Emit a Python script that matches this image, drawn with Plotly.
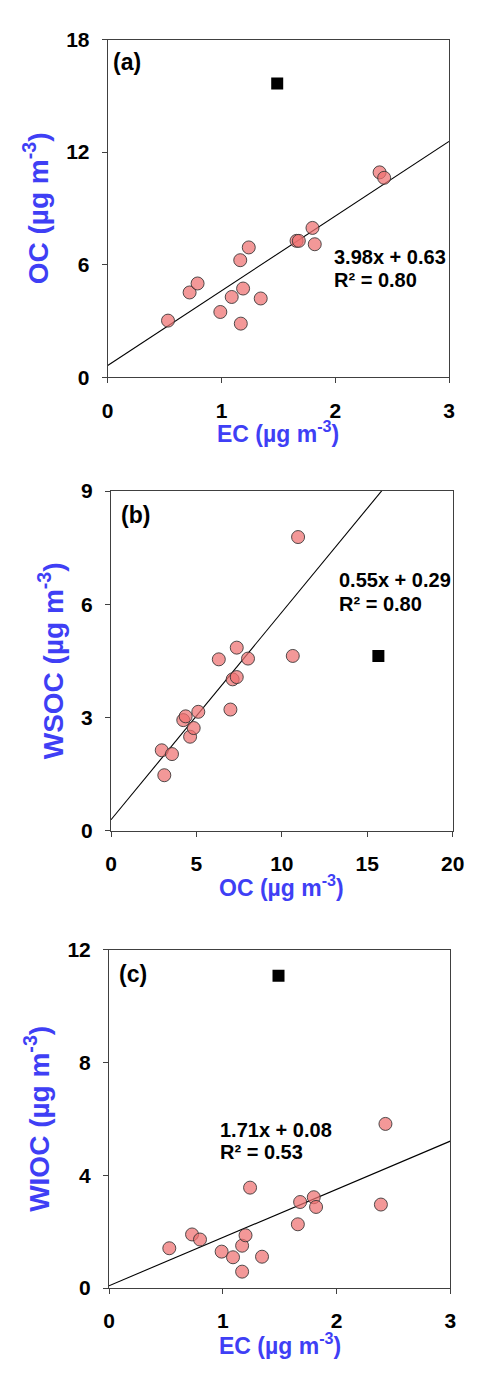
import plotly.graph_objects as go

W, H = 480, 1386

# ---- data ----
ec_a = [0.53, 0.72, 0.79, 0.99, 1.09, 1.165, 1.17, 1.19, 1.24, 1.345, 1.66, 1.68, 1.80, 1.82, 2.39, 2.43]
oc_a = [3.02, 4.52, 5.00, 3.48, 4.28, 6.24, 2.86, 4.73, 6.92, 4.20, 7.27, 7.27, 7.96, 7.09, 10.92, 10.63]
ec_a_out = [1.49]
oc_a_out = [15.66]

oc_b = [2.97, 3.12, 3.57, 4.23, 4.37, 4.63, 4.84, 5.11, 6.31, 6.99, 7.12, 7.36, 7.36, 8.02, 10.64, 10.95]
wsoc_b = [2.13, 1.47, 2.03, 2.93, 3.03, 2.49, 2.72, 3.15, 4.54, 3.21, 4.01, 4.07, 4.85, 4.56, 4.63, 7.78]
oc_b_out = [15.65]
wsoc_b_out = [4.63]

ec_c = [0.53, 0.73, 0.80, 0.99, 1.09, 1.17, 1.17, 1.20, 1.24, 1.345, 1.66, 1.68, 1.80, 1.82, 2.39, 2.43]
wioc_c = [1.41, 1.90, 1.72, 1.29, 1.09, 1.50, 0.58, 1.87, 3.56, 1.11, 2.26, 3.05, 3.22, 2.875, 2.96, 5.82]
ec_c_out = [1.49]
wioc_c_out = [11.08]

fit_slope = [3.98, 0.55, 1.71]
fit_intercept = [0.63, 0.29, 0.08]
fit_r2 = [0.80, 0.80, 0.53]

panel_labels = ["(a)", "(b)", "(c)"]
x_titles = ["EC (µg m<sup>-3</sup>)", "OC (µg m<sup>-3</sup>)", "EC (µg m<sup>-3</sup>)"]
y_titles = ["OC (µg m<sup>-3</sup>)", "WSOC (µg m<sup>-3</sup>)", "WIOC (µg m<sup>-3</sup>)"]
x_ranges = [[0, 3], [0, 20], [0, 3]]
y_ranges = [[0, 18], [0, 9], [0, 12]]
x_dticks = [1, 5, 1]
y_dticks = [6, 3, 4]

# ---- layout geometry (pixels) ----
boxes = [  # left, right, top, bottom
    (107.7, 449.0, 39.5, 377.3),
    (111.0, 452.7, 491.0, 830.7),
    (109.0, 450.3, 949.7, 1288.0),
]
xtitle_y = [432, 886, 1344]
panel_label_pos = [(111, 62), (119, 515), (117, 974)]
eq_pos = [(332, 257, 280), (337, 580, 604), (218, 1130, 1152)]

FONT = "Liberation Sans, Arial, sans-serif"
BLUE = "#3f3ff5"
AXC = "#404040"

def px_x(p):
    return p / W

def px_y(p):
    return 1 - p / H

panels = [
    (ec_a, oc_a, ec_a_out, oc_a_out),
    (oc_b, wsoc_b, oc_b_out, wsoc_b_out),
    (ec_c, wioc_c, ec_c_out, wioc_c_out),
]

fig = go.Figure()
layout = dict(
    width=W, height=H,
    margin=dict(l=0, r=0, t=0, b=0, pad=0, autoexpand=False),
    paper_bgcolor="white", plot_bgcolor="white",
    showlegend=False,
    font=dict(family=FONT, color="black"),
    annotations=[],
)

for i, (xs, ys, xo, yo) in enumerate(panels):
    xa = "x" if i == 0 else f"x{i+1}"
    ya = "y" if i == 0 else f"y{i+1}"
    xkey = "xaxis" if i == 0 else f"xaxis{i+1}"
    ykey = "yaxis" if i == 0 else f"yaxis{i+1}"
    l, r, t, b = boxes[i]

    # regression line
    x0, x1 = x_ranges[i]
    fig.add_trace(go.Scatter(
        x=[x0, x1],
        y=[fit_slope[i] * x0 + fit_intercept[i], fit_slope[i] * x1 + fit_intercept[i]],
        mode="lines", line=dict(color="black", width=1.1),
        xaxis=xa, yaxis=ya, hoverinfo="skip"))
    # points
    fig.add_trace(go.Scatter(
        x=xs, y=ys, mode="markers",
        marker=dict(symbol="circle", size=13, color="rgba(238,112,112,0.72)",
                    line=dict(color="rgba(50,50,50,0.85)", width=1)),
        xaxis=xa, yaxis=ya))
    # outlier
    fig.add_trace(go.Scatter(
        x=xo, y=yo, mode="markers",
        marker=dict(symbol="square", size=12, color="black", line=dict(width=0)),
        xaxis=xa, yaxis=ya))

    axis_common = dict(
        showgrid=False, zeroline=False, showline=True, linecolor=AXC, linewidth=1,
        mirror=True, ticks="outside", ticklen=5, tickwidth=1, tickcolor=AXC,
        tickfont=dict(family=FONT, size=21, color="black", weight="bold"),
        fixedrange=True, automargin=False,
    )
    layout[xkey] = dict(
        axis_common,
        domain=[px_x(l), px_x(r)], anchor=ya,
        range=x_ranges[i], tick0=0, dtick=x_dticks[i],
        ticklabelstandoff=9,
    )
    layout[ykey] = dict(
        axis_common,
        domain=[px_y(b), px_y(t)], anchor=xa,
        range=y_ranges[i], tick0=0, dtick=y_dticks[i],
        ticklabelstandoff=8,
        title=dict(text=y_titles[i], standoff=9,
                   font=dict(family=FONT, size=28, color=BLUE, weight="bold")),
    )

    # x-axis title
    layout["annotations"].append(dict(
        text=f"<b>{x_titles[i]}</b>", xref="paper", yref="paper",
        x=px_x((l + r) / 2), y=px_y(xtitle_y[i]), xanchor="center", yanchor="middle",
        showarrow=False, font=dict(family=FONT, size=23, color=BLUE)))

    lx, ly = panel_label_pos[i]
    layout["annotations"].append(dict(
        text=f"<b>{panel_labels[i]}</b>", xref="paper", yref="paper",
        x=px_x(lx), y=px_y(ly), xanchor="left", yanchor="middle",
        showarrow=False, font=dict(family=FONT, size=23, color="black")))

    ex, ey1, ey2 = eq_pos[i]
    layout["annotations"].append(dict(
        text=f"<b>{fit_slope[i]:.2f}x + {fit_intercept[i]:.2f}</b>",
        xref="paper", yref="paper", x=px_x(ex), y=px_y(ey1),
        xanchor="left", yanchor="middle", showarrow=False,
        font=dict(family=FONT, size=20, color="black")))
    layout["annotations"].append(dict(
        text=f"<b>R² = {fit_r2[i]:.2f}</b>",
        xref="paper", yref="paper", x=px_x(ex), y=px_y(ey2),
        xanchor="left", yanchor="middle", showarrow=False,
        font=dict(family=FONT, size=20, color="black")))

fig.update_layout(**layout)
fig.write_html("out.html")
